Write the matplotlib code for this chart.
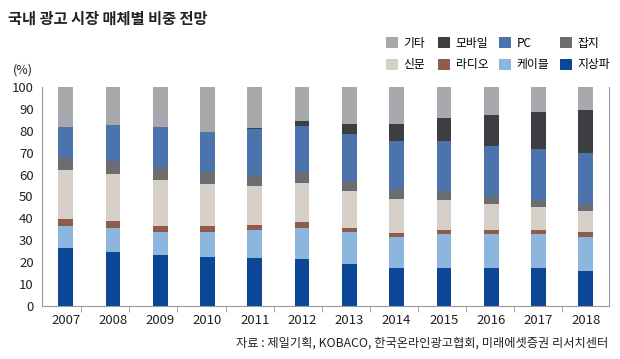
import numpy as np
import matplotlib.pyplot as plt

plt.rcParams['font.family'] = ['Noto Sans CJK KR', 'DejaVu Sans']

years = ['2007', '2008', '2009', '2010', '2011', '2012',
         '2013', '2014', '2015', '2016', '2017', '2018']

# 매체별 비중 (%), 아래에서 위로 쌓는 순서
jisangpa = [26.3, 24.5, 23.3, 22.5, 21.7, 21.3, 19.0, 17.2, 17.2, 17.2, 17.2, 16.1]
cable    = [10.3, 11.2, 10.4, 11.2, 13.0, 14.4, 14.6, 14.3, 15.5, 15.5, 15.5, 15.4]
radio    = [3.1, 3.1, 2.9, 2.9, 2.5, 2.6, 2.1, 1.8, 2.0, 2.0, 2.0, 2.4]
sinmun   = [22.2, 21.4, 21.0, 19.2, 17.5, 17.9, 16.6, 15.5, 13.5, 11.7, 10.3, 9.7]
japji    = [5.6, 5.8, 5.9, 5.4, 5.3, 5.2, 4.7, 4.8, 4.1, 3.9, 3.5, 2.9]
pc       = [14.3, 16.7, 18.1, 18.1, 20.7, 20.8, 21.7, 21.6, 22.9, 22.8, 23.1, 23.3]
mobile   = [0.0, 0.0, 0.0, 0.0, 0.6, 2.1, 4.6, 8.1, 10.7, 14.0, 16.8, 19.9]
gita     = [18.2, 17.3, 18.4, 20.7, 18.7, 15.7, 16.7, 16.7, 14.1, 12.9, 11.6, 10.3]

series = [
    ('지상파', jisangpa, '#0b4796'),
    ('케이블', cable, '#8cb6de'),
    ('라디오', radio, '#8f5b4b'),
    ('신문', sinmun, '#d7d0c9'),
    ('잡지', japji, '#6c6d70'),
    ('PC', pc, '#4b73ac'),
    ('모바일', mobile, '#3d3e41'),
    ('기타', gita, '#a7a8ac'),
]

fig = plt.figure(figsize=(6.2, 3.59), dpi=100)
ax = fig.add_axes([0.0677, 0.1476, 0.9153, 0.6101])

x = np.arange(len(years))
bottom = np.zeros(len(years))
bars = {}
for name, vals, color in series:
    bars[name] = ax.bar(x, vals, width=0.31, bottom=bottom, color=color,
                        linewidth=0, label=name)
    bottom += np.array(vals)

ax.set_xlim(-0.5, len(years) - 0.5)
ax.set_ylim(0, 100)
ax.set_yticks(range(0, 101, 10))
ax.tick_params(axis='y', length=0, labelsize=9.5, pad=6, colors='#222222')
ax.set_xticks(x)
ax.set_xticklabels(years)
ax.tick_params(axis='x', length=0, labelsize=9.5, pad=6, colors='#222222')
# 원본의 구분 눈금은 막대 사이에서 약간 오른쪽으로 치우쳐 있음
ax.set_xticks(0.33 + 1.017 * np.arange(11), minor=True)
ax.tick_params(axis='x', which='minor', length=4, color='#999999', direction='out')

ax.spines['top'].set_visible(False)
for s in ['left', 'bottom', 'right']:
    ax.spines[s].set_color('#999999')
    ax.spines[s].set_linewidth(0.8)

fig.text(0.013, 0.948, '국내 광고 시장 매체별 비중 전망', fontsize=11,
         fontweight='bold', ha='left', va='center', color='#222222')
fig.text(0.021, 0.805, '(%)', fontsize=9, ha='left', va='center', color='#222222')

# 범례: 2행 4열, 열마다 따로 배치
columns = [(['기타', '신문'], 386), (['모바일', '라디오'], 438),
           (['PC', '케이블'], 499), (['잡지', '지상파'], 560)]
for names, px in columns:
    leg = fig.legend([bars[n] for n in names], names, loc='upper left',
                     bbox_to_anchor=(px / 620, 0.898), frameon=False,
                     fontsize=8.5, handlelength=1.0, handleheight=1.0,
                     handletextpad=0.5, labelspacing=0.75, borderpad=0,
                     borderaxespad=0)

fig.text(0.981, 0.045, '자료 : 제일기획, KOBACO, 한국온라인광고협회, 미래에셋증권 리서치센터',
         fontsize=8.8, ha='right', va='center', color='#222222')

fig.savefig('out.png', dpi=100)
